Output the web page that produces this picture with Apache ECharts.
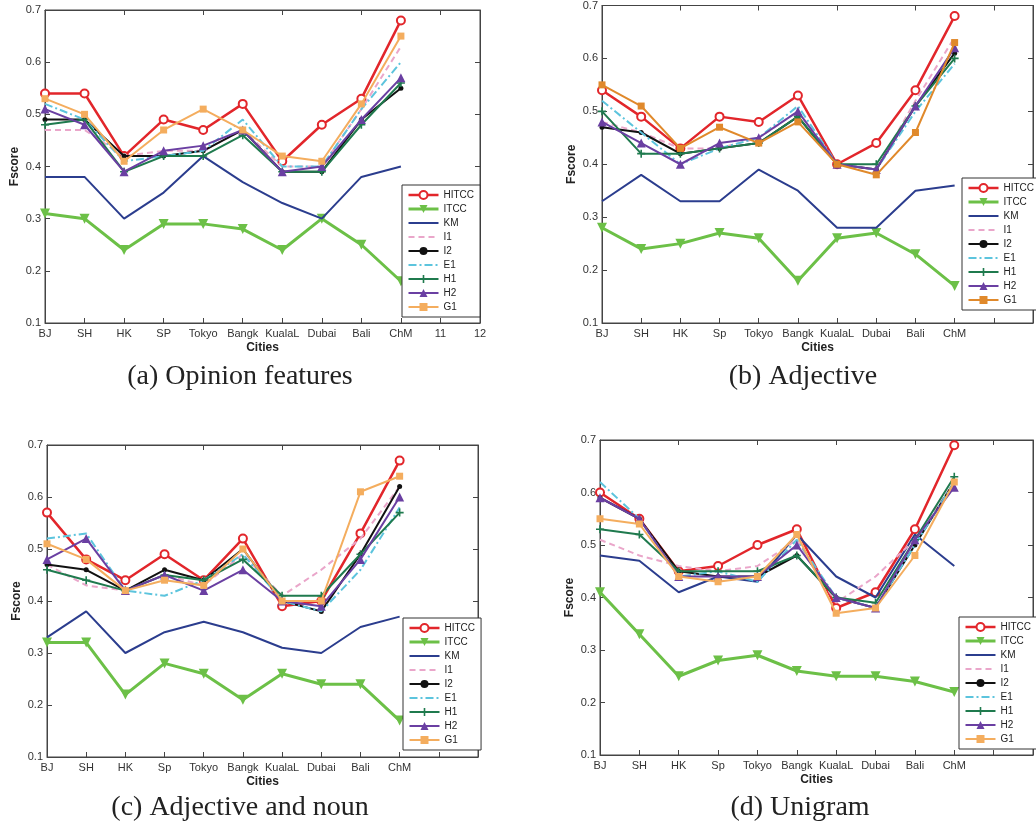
<!DOCTYPE html>
<html>
<head>
<meta charset="utf-8">
<script src="https://cdn.jsdelivr.net/npm/echarts@6/dist/echarts.min.js"></script>
<style>html,body{margin:0;padding:0;background:#fff;}#c{width:1036px;height:826px;}</style>
</head>
<body>
<div id="c"></div>
<script>
// ---- categories / labels ----
const citiesA = ['BJ','SH','HK','SP','Tokyo','Bangk','KualaL','Dubai','Bali','ChM','11','12'];
const citiesB = ['BJ','SH','HK','Sp','Tokyo','Bangk','KualaL','Dubai','Bali','ChM','',''];
const methods = ['HITCC','ITCC','KM','I1','I2','E1','H1','H2','G1'];
const captions = ['(a) Opinion features','(b) Adjective','(c) Adjective and noun','(d) Unigram'];

// ---- (a) Opinion features ----
const a_HITCC = [0.54,0.54,0.42,0.49,0.47,0.52,0.41,0.48,0.53,0.68];
const a_ITCC  = [0.31,0.30,0.24,0.29,0.29,0.28,0.24,0.30,0.25,0.18];
const a_KM    = [0.38,0.38,0.30,0.35,0.42,0.37,0.33,0.30,0.38,0.40];
const a_I1    = [0.47,0.47,0.42,0.43,0.43,0.47,0.40,0.40,0.51,0.63];
const a_I2    = [0.49,0.49,0.42,0.42,0.43,0.47,0.39,0.39,0.49,0.55];
const a_E1    = [0.52,0.49,0.41,0.42,0.43,0.49,0.40,0.40,0.51,0.60];
const a_H1    = [0.48,0.49,0.39,0.42,0.42,0.46,0.39,0.39,0.48,0.56];
const a_H2    = [0.51,0.48,0.39,0.43,0.44,0.47,0.39,0.40,0.49,0.57];
const a_G1    = [0.53,0.50,0.41,0.47,0.51,0.47,0.42,0.41,0.52,0.65];

// ---- (b) Adjective ----
const b_HITCC = [0.54,0.49,0.43,0.49,0.48,0.53,0.40,0.44,0.54,0.68];
const b_ITCC  = [0.28,0.24,0.25,0.27,0.26,0.18,0.26,0.27,0.23,0.17];
const b_KM    = [0.33,0.38,0.33,0.33,0.39,0.35,0.28,0.28,0.35,0.36];
const b_I1    = [0.48,0.46,0.43,0.43,0.45,0.50,0.40,0.39,0.52,0.64];
const b_I2    = [0.47,0.46,0.42,0.43,0.44,0.49,0.40,0.39,0.51,0.61];
const b_E1    = [0.52,0.46,0.40,0.43,0.45,0.51,0.40,0.39,0.50,0.59];
const b_H1    = [0.50,0.42,0.42,0.43,0.44,0.49,0.40,0.40,0.51,0.60];
const b_H2    = [0.48,0.44,0.40,0.44,0.45,0.50,0.40,0.39,0.51,0.62];
const b_G1    = [0.55,0.51,0.43,0.47,0.44,0.48,0.40,0.38,0.46,0.63];

// ---- (c) Adjective and noun ----
const c_HITCC = [0.57,0.48,0.44,0.49,0.44,0.52,0.39,0.40,0.53,0.67];
const c_ITCC  = [0.32,0.32,0.22,0.28,0.26,0.21,0.26,0.24,0.24,0.17];
const c_KM    = [0.33,0.38,0.30,0.34,0.36,0.34,0.31,0.30,0.35,0.37];
const c_I1    = [0.47,0.43,0.42,0.45,0.43,0.49,0.41,0.46,0.52,0.62];
const c_I2    = [0.47,0.46,0.42,0.46,0.44,0.50,0.40,0.38,0.49,0.62];
const c_E1    = [0.52,0.53,0.42,0.41,0.44,0.49,0.40,0.38,0.46,0.58];
const c_H1    = [0.46,0.44,0.42,0.45,0.44,0.48,0.41,0.41,0.49,0.57];
const c_H2    = [0.48,0.52,0.42,0.45,0.42,0.46,0.40,0.39,0.48,0.60];
const c_G1    = [0.51,0.48,0.42,0.44,0.43,0.50,0.40,0.40,0.61,0.64];

// ---- (d) Unigram ----
const d_HITCC = [0.60,0.55,0.45,0.46,0.50,0.53,0.38,0.41,0.53,0.69];
const d_ITCC  = [0.41,0.33,0.25,0.28,0.29,0.26,0.25,0.25,0.24,0.22];
const d_KM    = [0.48,0.47,0.41,0.44,0.43,0.52,0.44,0.40,0.52,0.46];
const d_I1    = [0.51,0.48,0.46,0.45,0.46,0.51,0.39,0.44,0.51,0.62];
const d_I2    = [0.59,0.55,0.45,0.44,0.44,0.48,0.40,0.38,0.50,0.62];
const d_E1    = [0.62,0.55,0.44,0.45,0.43,0.51,0.40,0.38,0.50,0.62];
const d_H1    = [0.53,0.52,0.45,0.45,0.45,0.48,0.40,0.39,0.51,0.63];
const d_H2    = [0.59,0.55,0.44,0.44,0.44,0.50,0.40,0.38,0.51,0.61];
const d_G1    = [0.55,0.54,0.44,0.43,0.44,0.52,0.37,0.38,0.48,0.62];

const panels = [
  {cats: citiesA, data: [a_HITCC,a_ITCC,a_KM,a_I1,a_I2,a_E1,a_H1,a_H2,a_G1], g1: '#f4ad5e'},
  {cats: citiesB, data: [b_HITCC,b_ITCC,b_KM,b_I1,b_I2,b_E1,b_H1,b_H2,b_G1], g1: '#e0892b'},
  {cats: citiesB, data: [c_HITCC,c_ITCC,c_KM,c_I1,c_I2,c_E1,c_H1,c_H2,c_G1], g1: '#f4ad5e'},
  {cats: citiesB, data: [d_HITCC,d_ITCC,d_KM,d_I1,d_I2,d_E1,d_H1,d_H2,d_G1], g1: '#f4ad5e'}
];

// layout (pixels)
const grids = [
  {left: 45,  top: 10,  width: 435, height: 313},
  {left: 602, top: 5,   width: 436, height: 318},
  {left: 47,  top: 445, width: 431, height: 312},
  {left: 600, top: 440, width: 433, height: 315}
];
const legendPos = [
  {left: 402, top: 185},
  {left: 962, top: 178},
  {left: 403, top: 618},
  {left: 959, top: 617}
];
const captionPos = [[240, 377], [803, 377], [240, 808], [800, 808]];

const plusPath = 'path://M4,0h2v4h4v2h-4v4h-2v-4h-4v-2h4z';
function styleOf(m, g1) {
  switch (m) {
    case 'HITCC': return {color:'#e2262b', width:2.5, symbol:'emptyCircle', size:8, type:'solid'};
    case 'ITCC':  return {color:'#6cc047', width:3,   symbol:'triangle', size:10, rotate:180, type:'solid'};
    case 'KM':    return {color:'#2b3d8e', width:2,   symbol:'none', size:0, type:'solid'};
    case 'I1':    return {color:'#eaa6ca', width:2,   symbol:'none', size:0, type:[6,4]};
    case 'I2':    return {color:'#111111', width:2,   symbol:'circle', size:5, type:'solid'};
    case 'E1':    return {color:'#5cc4dd', width:2,   symbol:'none', size:0, type:[8,3,2,3]};
    case 'H1':    return {color:'#1f7a4e', width:2,   symbol:plusPath, size:8, type:'solid'};
    case 'H2':    return {color:'#6a3fa2', width:2,   symbol:'triangle', size:9, type:'solid'};
    case 'G1':    return {color:g1,        width:2,   symbol:'rect', size:7, type:'solid'};
  }
}
function itemStyleOf(s) {
  return s.symbol === 'emptyCircle'
    ? {color: s.color, borderWidth: 2}
    : {color: s.color, borderWidth: 0};
}

const font = 'Liberation Sans';
const axisColor = '#444';
const option = {
  animation: false,
  backgroundColor: '#fff',
  grid: [], xAxis: [], yAxis: [], series: [], legend: [], graphic: []
};

panels.forEach((p, gi) => {
  option.grid.push(Object.assign({show: true, borderColor: axisColor, borderWidth: 1, backgroundColor: '#fff'}, grids[gi]));
  option.xAxis.push({
    type: 'category', gridIndex: gi, data: p.cats, boundaryGap: false, position: 'bottom',
    axisLine: {lineStyle: {color: axisColor}},
    axisTick: {inside: true, length: 5, lineStyle: {color: axisColor}, alignWithLabel: true},
    axisLabel: {color: '#333', fontFamily: font, fontSize: 11, margin: 5, interval: 0},
    name: 'Cities', nameLocation: 'middle', nameGap: 19,
    nameTextStyle: {fontFamily: font, fontWeight: 'bold', fontSize: 12, color: '#222'},
    splitLine: {show: false}
  });
  option.xAxis.push({
    type: 'category', gridIndex: gi, data: p.cats, boundaryGap: false, position: 'top',
    axisLine: {lineStyle: {color: axisColor}},
    axisTick: {inside: true, length: 5, lineStyle: {color: axisColor}},
    axisLabel: {show: false}, splitLine: {show: false}
  });
  option.yAxis.push({
    type: 'value', gridIndex: gi, min: 0.1, max: 0.7, interval: 0.1, position: 'left',
    axisLine: {show: true, lineStyle: {color: axisColor}},
    axisTick: {show: true, inside: true, length: 5, lineStyle: {color: axisColor}},
    axisLabel: {color: '#333', fontFamily: font, fontSize: 11, margin: 4, formatter: v => v.toFixed(1)},
    name: 'Fscore', nameLocation: 'middle', nameGap: 24, nameRotate: 90,
    nameTextStyle: {fontFamily: font, fontWeight: 'bold', fontSize: 12, color: '#222'},
    splitLine: {show: false}
  });
  option.yAxis.push({
    type: 'value', gridIndex: gi, min: 0.1, max: 0.7, interval: 0.1, position: 'right',
    axisLine: {show: true, lineStyle: {color: axisColor}},
    axisTick: {show: true, inside: true, length: 5, lineStyle: {color: axisColor}},
    axisLabel: {show: false}, splitLine: {show: false}
  });
  methods.forEach((m, mi) => {
    const s = styleOf(m, p.g1);
    option.series.push({
      type: 'line', name: m, xAxisIndex: gi * 2, yAxisIndex: gi * 2,
      data: p.data[mi],
      symbol: s.symbol, symbolSize: s.size, symbolRotate: s.rotate || 0, showSymbol: s.symbol !== 'none',
      lineStyle: {color: s.color, width: s.width, type: s.type},
      itemStyle: itemStyleOf(s),
      emphasis: {disabled: true}, z: 2 + mi
    });
  });
  option.legend.push(Object.assign({
    orient: 'vertical', backgroundColor: '#fff', borderColor: '#333', borderWidth: 1, borderRadius: 0,
    padding: [5, 6, 5, 5], itemWidth: 30, itemHeight: 10, itemGap: 4, selectedMode: false,
    textStyle: {fontFamily: font, fontSize: 10, color: '#222'},
    data: methods.map(m => {
      const s = styleOf(m, p.g1);
      const is = itemStyleOf(s);
      if (s.symbol === 'none') is.opacity = 0;
      return {name: m, itemStyle: is, lineStyle: {color: s.color, width: s.width, type: s.type, opacity: 1}};
    })
  }, legendPos[gi]));
  option.graphic.push({
    type: 'text', x: captionPos[gi][0], y: captionPos[gi][1],
    style: {text: captions[gi], fontFamily: 'Liberation Serif', fontSize: 28, fill: '#222', align: 'center', verticalAlign: 'middle'}
  });
});

const chart = echarts.init(document.getElementById('c'), null, {renderer: 'canvas'});
chart.setOption(option);
</script>
</body>
</html>
